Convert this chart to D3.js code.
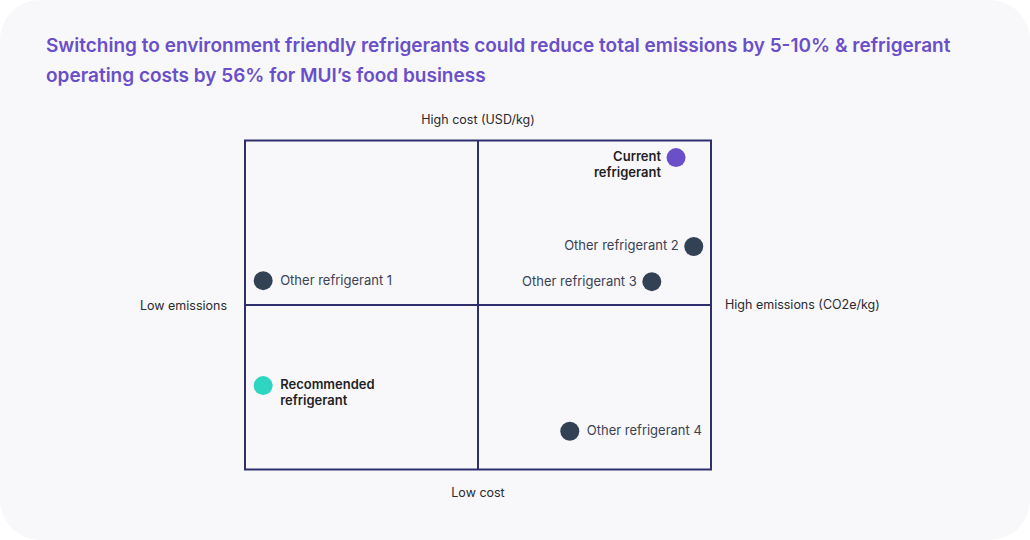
<!DOCTYPE html>
<html>
<head>
<meta charset="utf-8">
<script src="https://cdn.jsdelivr.net/npm/d3@7"></script>
<style>
  html, body { margin: 0; padding: 0; background: #ffffff; }
  svg { display: block; font-family: Inter, "Noto Sans", sans-serif; }
</style>
</head>
<body>
<svg id="chart" width="1030" height="540"></svg>
<script>
// ---- Data ----
const titleLines = [
  "Switching to environment friendly refrigerants could reduce total emissions by 5-10% & refrigerant",
  "operating costs by 56% for MUI\u2019s food business"
];
const names = ["Current refrigerant", "Other refrigerant 2", "Other refrigerant 3", "Other refrigerant 1", "Recommended refrigerant", "Other refrigerant 4"];
const emissions = [9.25, 9.63, 8.73, 0.39, 0.39, 6.97];   // x: 0 = low, 10 = high
const costs     = [9.48, 6.78, 5.71, 5.74, 2.55, 1.16];   // y: 0 = low, 10 = high
const kinds     = ["current", "other", "other", "other", "recommended", "other"];
const axisLabels = { top: "High cost (USD/kg)", bottom: "Low cost", left: "Low emissions", right: "High emissions (CO2e/kg)" };

const colors = { current: "#6a4fc9", recommended: "#2ed6c1", other: "#334155" };

const svg = d3.select("#chart");

// card background
svg.append("rect").attr("x", 0).attr("y", 0).attr("width", 1030).attr("height", 540)
  .attr("rx", 40).attr("ry", 40).attr("fill", "#f8f8fb");

// title
svg.append("g").selectAll("text").data(titleLines).join("text")
  .attr("x", 46).attr("y", (d, i) => 52 + i * 30)
  .attr("fill", "#6a4fc9").attr("font-size", 19).attr("font-weight", 600)
  .text(d => d);

const x = d3.scaleLinear().domain([0, 10]).range([245, 711]);
const y = d3.scaleLinear().domain([0, 10]).range([469.5, 140.5]);

const lineColor = "#2f2f6e";
const grid = svg.append("g");
grid.append("rect")
  .attr("x", x(0)).attr("y", y(10))
  .attr("width", x(10) - x(0)).attr("height", y(0) - y(10))
  .attr("fill", "none").attr("stroke", lineColor).attr("stroke-width", 2);
grid.append("line").attr("x1", x(5)).attr("x2", x(5)).attr("y1", y(10)).attr("y2", y(0))
  .attr("stroke", lineColor).attr("stroke-width", 2);
grid.append("line").attr("x1", x(0)).attr("x2", x(10)).attr("y1", y(5)).attr("y2", y(5))
  .attr("stroke", lineColor).attr("stroke-width", 2);

// axis labels
const al = svg.append("g").attr("font-size", 12.5).attr("fill", "#2a2a2e");
al.append("text").attr("x", x(5)).attr("y", y(10) - 17).attr("text-anchor", "middle").text(axisLabels.top);
al.append("text").attr("x", x(5)).attr("y", y(0) + 27).attr("text-anchor", "middle").text(axisLabels.bottom);
al.append("text").attr("x", x(0) - 18).attr("y", y(5) + 5).attr("text-anchor", "end").text(axisLabels.left);
al.append("text").attr("x", x(10) + 14).attr("y", y(5) + 4).attr("text-anchor", "start").text(axisLabels.right);

// points
const pts = names.map((n, i) => ({ name: n, ex: emissions[i], co: costs[i], kind: kinds[i] }));
const g = svg.append("g");
g.selectAll("circle").data(pts).join("circle")
  .attr("cx", d => x(d.ex)).attr("cy", d => y(d.co)).attr("r", 9.5)
  .attr("fill", d => colors[d.kind]);

pts.forEach(d => {
  const cx = x(d.ex), cy = y(d.co);
  const rightSide = d.ex < 5 || d.name === "Other refrigerant 4";
  const anchor = rightSide ? "start" : "end";
  const tx = rightSide ? cx + 17 : cx - 15;
  const bold = d.kind !== "other";
  const t = g.append("text")
    .attr("text-anchor", anchor)
    .attr("font-size", 13)
    .attr("font-weight", bold ? 600 : 400)
    .attr("fill", bold ? "#1f1f24" : "#3b4252");
  if (bold) {
    const parts = d.name.split(" ");
    t.append("tspan").attr("x", tx).attr("y", cy + 3).text(parts[0]);
    t.append("tspan").attr("x", tx).attr("y", cy + 19).text(parts.slice(1).join(" "));
  } else {
    t.attr("x", tx).attr("y", cy + 4).text(d.name);
  }
});
</script>
</body>
</html>
